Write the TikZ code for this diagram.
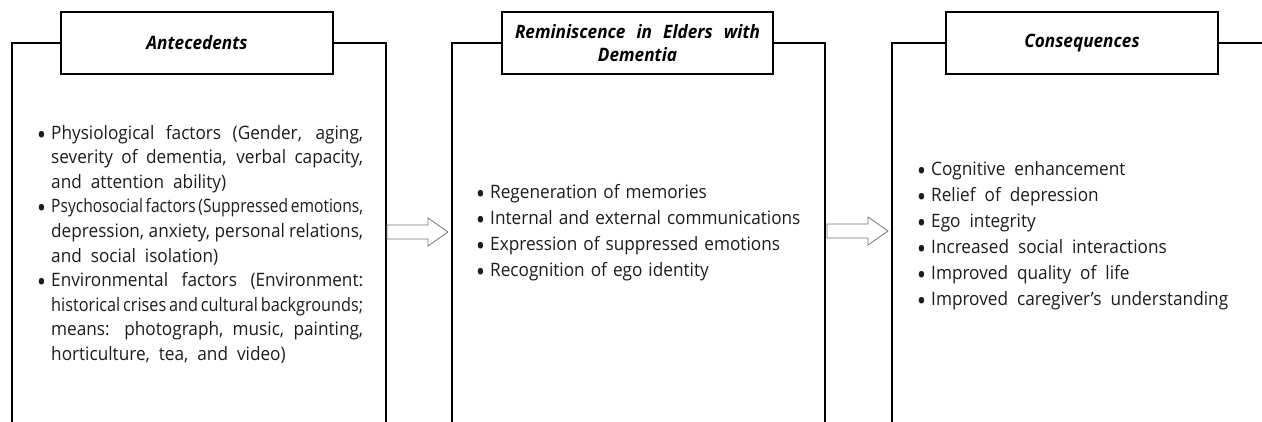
\documentclass[tikz,border=0pt]{standalone}
\usepackage{fontspec}
\usepackage{graphicx}
\setmainfont{Open Sans}[FakeStretch=0.93]
\usetikzlibrary{calc}
\definecolor{txt}{RGB}{28,28,28}
\definecolor{arrowgray}{RGB}{120,120,120}
\newcommand\bul{\leavevmode\llap{\raisebox{-5pt}{\scalebox{1.45}{\textbullet}}\hspace{5pt}}}
\newcommand\justline[2]{%
  \leavevmode\sbox0{\spaceskip=3pt\relax #2}%
  \ifdim\wd0>#1\relax\resizebox{#1}{\height}{\usebox0}%
  \else\makebox[#1][s]{\spaceskip=3pt plus 1fil\relax #2}\fi}
\begin{document}
\begin{tikzpicture}[x=1pt,y=-1pt,
  panel/.style={line width=2pt},
  titlebox/.style={draw, line width=2pt, minimum width=272pt, minimum height=62pt,
    inner sep=0pt, align=center, font=\fontsize{18.5}{23}\selectfont\bfseries\itshape},
  body/.style={anchor=base west, inner sep=0pt, text=txt},
  blockarrow/.style={draw=arrowgray, fill=white, line width=0.8pt, line join=miter}]
\useasboundingbox (0,0) rectangle (1262,421);

% title boxes
\node[titlebox] (t1) at (197,43) {Antecedents};
\node[titlebox, minimum width=271pt] (t2) at (637.5,43)
  {\makebox[245pt][s]{Reminiscence in Elders with}\\Dementia};
\node[titlebox] (t3) at (1082,43) {Consequences};

% panel outlines
\draw[panel] (t1.west) -| (12,424);
\draw[panel] (t1.east) -| (386,424);
\draw[panel] (t2.west) -| (452,424);
\draw[panel] (t2.east) -| (825,424);
\draw[panel] (t3.west) -| (892,424);
\draw[panel] (t3.east) -- (1264,43);

% block arrows
\draw[blockarrow, shift={(387,232)}] (0,-7) -- (41,-7) -- (41,-14) -- (61,0) -- (41,14) -- (41,7) -- (0,7) -- cycle;
\draw[blockarrow, shift={(827,231)}] (0,-7) -- (41,-7) -- (41,-14) -- (61,0) -- (41,14) -- (41,7) -- (0,7) -- cycle;

% body texts
\node[body] (b1) at (51,139) {\parbox[t]{330pt}{\fontsize{18.5}{24.6}\selectfont\raggedright\spaceskip=9pt\relax
\bul\justline{312pt}{Physiological factors (Gender, aging,}\\
\justline{312pt}{severity of dementia, verbal capacity,}\\
and attention ability)\\
\bul\justline{312pt}{Psychosocial factors (Suppressed emotions,}\\
\justline{312pt}{depression, anxiety, personal relations,}\\
and social isolation)\\
\bul\justline{312pt}{Environmental factors (Environment:}\\
\justline{312pt}{historical crises and cultural backgrounds;}\\
\justline{312pt}{means: photograph, music, painting,}\\
horticulture, tea, and video)}};

\node[body] (b2) at (490,198) {\parbox[t]{340pt}{\fontsize{18.5}{26.3}\selectfont\raggedright\spaceskip=6pt\relax
\bul Regeneration of memories\\
\bul Internal and external communications\\
\bul Expression of suppressed emotions\\
\bul Recognition of ego identity}};

\node[body] (b3) at (931,175) {\parbox[t]{330pt}{\fontsize{18.5}{26}\selectfont\raggedright\spaceskip=9pt\relax
\bul Cognitive enhancement\\
\bul Relief of depression\\
\bul Ego integrity\\
\bul Increased social interactions\\
\bul Improved quality of life\\
\bul Improved caregiver’s understanding}};
\end{tikzpicture}
\end{document}
